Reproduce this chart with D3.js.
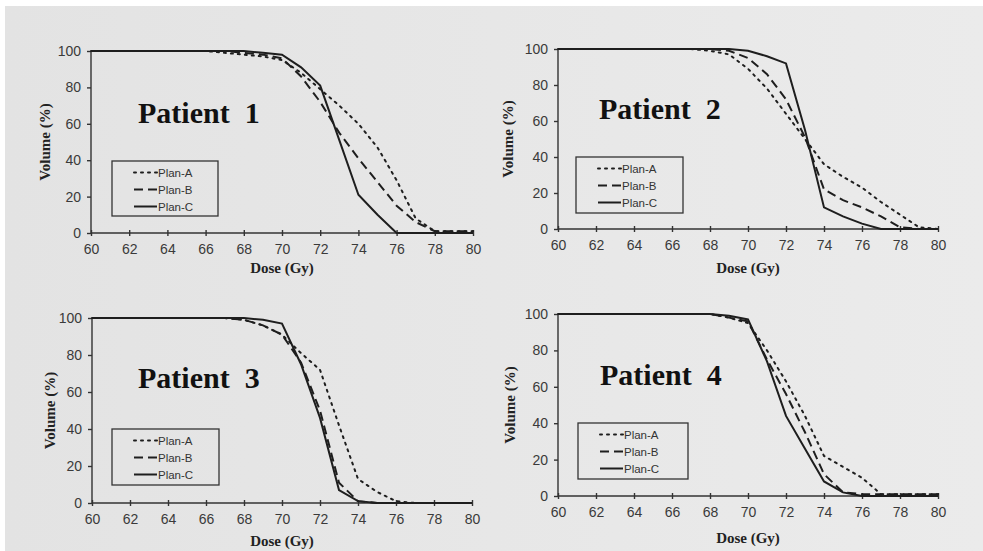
<!DOCTYPE html>
<html>
<head>
<meta charset="utf-8">
<script src="https://cdn.jsdelivr.net/npm/d3@7"></script>
<style>
  body { margin: 0; background: #ffffff; }
  svg { display: block; }
</style>
</head>
<body>
<div id="chart"></div>
<script>
// dose points (Gy) shared by every curve
const doses = [60, 62, 64, 66, 67, 68, 69, 70, 71, 72, 73, 74, 75, 76, 77, 78, 79, 80];

// volume (%), one array per patient / plan
const p1PlanA = [100, 100, 100, 100, 99, 98, 97, 95, 88, 79, 70, 60, 47, 29, 8, 1, 1, 1];
const p1PlanB = [100, 100, 100, 100, 100, 99, 98, 96, 86, 72, 55, 41, 28, 15, 6, 1, 1, 1];
const p1PlanC = [100, 100, 100, 100, 100, 100, 99, 98, 91, 81, 51, 21, 10, 0, 0, 0, 0, 0];

const p2PlanA = [100, 100, 100, 100, 100, 99, 97, 89, 78, 64, 50, 36, 29, 23, 15, 8, 1, 0];
const p2PlanB = [100, 100, 100, 100, 100, 100, 99, 95, 86, 72, 51, 22, 16, 12, 7, 1, 0, 0];
const p2PlanC = [100, 100, 100, 100, 100, 100, 100, 99, 96, 92, 55, 12, 7, 3, 0, 0, 0, 0];

const p3PlanA = [100, 100, 100, 100, 100, 99, 96, 91, 81, 72, 42, 13, 6, 1, 0, 0, 0, 0];
const p3PlanB = [100, 100, 100, 100, 100, 99, 96, 91, 76, 50, 11, 1, 0, 0, 0, 0, 0, 0];
const p3PlanC = [100, 100, 100, 100, 100, 100, 99, 97, 75, 46, 7, 1, 0, 0, 0, 0, 0, 0];

const p4PlanA = [100, 100, 100, 100, 100, 100, 98, 95, 80, 63, 44, 22, 16, 10, 1, 1, 1, 1];
const p4PlanB = [100, 100, 100, 100, 100, 100, 98, 96, 75, 56, 35, 12, 2, 1, 1, 1, 1, 1];
const p4PlanC = [100, 100, 100, 100, 100, 100, 99, 97, 74, 44, 26, 8, 2, 0, 0, 0, 0, 0];

const planNames = ['Plan-A', 'Plan-B', 'Plan-C'];
const patientNames = ['Patient  1', 'Patient  2', 'Patient  3', 'Patient  4'];
const xTicks = [60, 62, 64, 66, 68, 70, 72, 74, 76, 78, 80];
const yTicks = [0, 20, 40, 60, 80, 100];

const patientSeries = [
    [p1PlanA, p1PlanB, p1PlanC],
    [p2PlanA, p2PlanB, p2PlanC],
    [p3PlanA, p3PlanB, p3PlanC],
    [p4PlanA, p4PlanB, p4PlanC]
];

// where each panel sits on the scanned page
const layout = [
    {left: 91, right: 473, top: 51, bottom: 233, tx: 138, ty: 123, lx: 112, ly: 161, lw: 106, lh: 55, yl: 50, xl: 273},
    {left: 558, right: 938, top: 49, bottom: 229, tx: 599, ty: 119, lx: 576, ly: 157, lw: 107, lh: 56, yl: 513, xl: 273},
    {left: 92, right: 472, top: 318, bottom: 503, tx: 138, ty: 388, lx: 112, ly: 429, lw: 107, lh: 56, yl: 55, xl: 546},
    {left: 558, right: 938, top: 314, bottom: 496, tx: 600, ty: 385, lx: 578, ly: 423, lw: 110, lh: 56, yl: 515, xl: 543}
];

const dashes = ['2,5', '9,5', null];
const ink = '#1e1e1e';

const width = 983, height = 551;

const svg = d3.select('#chart')
    .append('svg')
    .attr('width', width)
    .attr('height', height);

// paper
let grad = svg.append('defs').append('linearGradient')
    .attr('id', 'paper')
    .attr('x1', '0').attr('x2', '1').attr('y1', '0').attr('y2', '0');
grad.append('stop').attr('offset', '0').attr('stop-color', '#e3e3e3');
grad.append('stop').attr('offset', '1').attr('stop-color', '#ebebeb');

svg.append('rect')
    .attr('x', 5).attr('y', 6)
    .attr('width', width - 5).attr('height', height - 6)
    .attr('fill', 'url(#paper)');

patientSeries.forEach(function(series, i) {
    const L = layout[i];

    let x_scale = d3.scaleLinear().domain([60, 80]).range([L.left, L.right]);
    let y_scale = d3.scaleLinear().domain([0, 100]).range([L.bottom, L.top]);

    let g = svg.append('g');

    // axes
    let y_axis = d3.axisLeft(y_scale).tickValues(yTicks).tickSize(4).tickPadding(6);
    let x_axis = d3.axisBottom(x_scale).tickValues(xTicks).tickSize(3).tickPadding(8);

    let ya = g.append('g')
        .attr('transform', 'translate(' + L.left + ',0)')
        .call(y_axis);
    ya.select('.domain').attr('d', 'M0,' + L.bottom + 'V' + L.top);

    let xa = g.append('g')
        .attr('transform', 'translate(0,' + L.bottom + ')')
        .call(x_axis);
    xa.select('.domain').attr('d', 'M' + L.left + ',0H' + L.right);
    xa.selectAll('.tick line').attr('y1', -3).attr('y2', 3);

    g.selectAll('.domain, .tick line')
        .attr('stroke', '#333')
        .attr('stroke-width', 1.4);
    g.selectAll('.tick text')
        .attr('font-family', 'Liberation Sans, Arial, sans-serif')
        .attr('font-size', '14px')
        .attr('fill', '#3a3a3a');

    // curves
    let line = d3.line()
        .x(function(d) { return x_scale(d[0]); })
        .y(function(d) { return y_scale(d[1]); });

    series.forEach(function(vals, k) {
        let pts = doses.map(function(d, j) { return [d, vals[j]]; });
        g.append('path')
            .datum(pts)
            .attr('d', line)
            .attr('fill', 'none')
            .attr('stroke', ink)
            .attr('stroke-width', 2)
            .attr('stroke-linecap', k == 0 ? 'round' : 'butt')
            .attr('stroke-dasharray', dashes[k]);
    });

    // title
    g.append('text')
        .attr('x', L.tx)
        .attr('y', L.ty)
        .attr('font-family', 'Liberation Serif, Times New Roman, serif')
        .attr('font-weight', 'bold')
        .attr('font-size', '30px')
        .attr('fill', '#111')
        .style('white-space', 'pre')
        .text(patientNames[i]);

    // axis titles
    g.append('text')
        .attr('transform', 'translate(' + L.yl + ',' + ((L.top + L.bottom) / 2) + ') rotate(-90)')
        .attr('text-anchor', 'middle')
        .attr('font-family', 'Liberation Serif, Times New Roman, serif')
        .attr('font-weight', 'bold')
        .attr('font-size', '15px')
        .attr('fill', '#222')
        .text('Volume (%)');

    g.append('text')
        .attr('x', (L.left + L.right) / 2)
        .attr('y', L.xl)
        .attr('text-anchor', 'middle')
        .attr('font-family', 'Liberation Serif, Times New Roman, serif')
        .attr('font-weight', 'bold')
        .attr('font-size', '15px')
        .attr('fill', '#222')
        .text('Dose (Gy)');

    // legend
    let lg = g.append('g').attr('transform', 'translate(' + L.lx + ',' + L.ly + ')');
    lg.append('rect')
        .attr('width', L.lw).attr('height', L.lh)
        .attr('fill', 'none')
        .attr('stroke', '#333')
        .attr('stroke-width', 1.3);

    planNames.forEach(function(name, k) {
        let ry = 11.5 + k * 17;
        lg.append('line')
            .attr('x1', 22).attr('x2', 45)
            .attr('y1', ry).attr('y2', ry)
            .attr('stroke', ink)
            .attr('stroke-width', 2)
            .attr('stroke-linecap', k == 0 ? 'round' : 'butt')
            .attr('stroke-dasharray', dashes[k]);
        lg.append('text')
            .attr('x', 46)
            .attr('y', ry + 4)
            .attr('font-family', 'Liberation Sans, Arial, sans-serif')
            .attr('font-size', '11.5px')
            .attr('fill', '#333')
            .text(name);
    });
});
</script>
</body>
</html>
